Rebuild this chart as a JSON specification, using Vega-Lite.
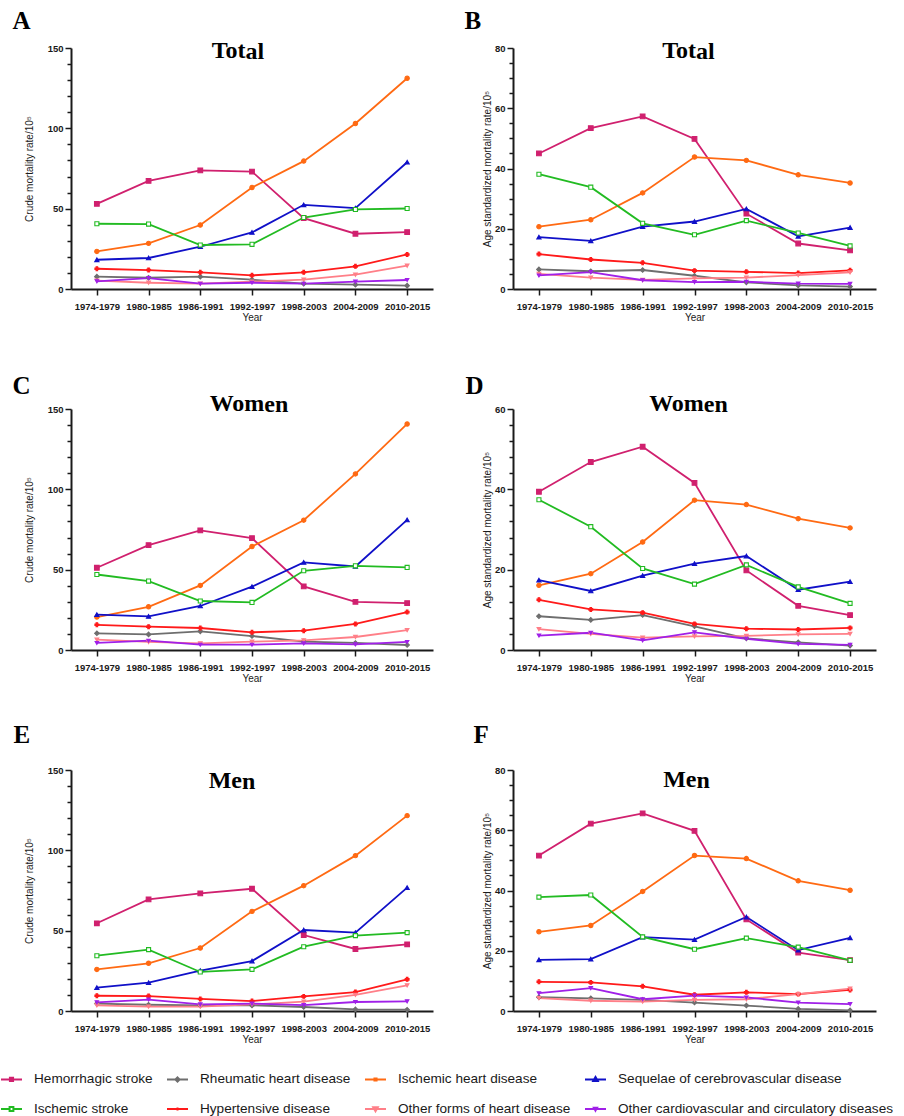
{
"$schema": "https://vega.github.io/schema/vega-lite/v6.json",
"background": "white",
"padding": {"left": 0, "top": 8, "right": 0, "bottom": 0},
"data": {"values": [
{"panel":"A","cause":"Hemorrhagic stroke","period":"1974-1979","rate":53.0},
{"panel":"A","cause":"Hemorrhagic stroke","period":"1980-1985","rate":67.3},
{"panel":"A","cause":"Hemorrhagic stroke","period":"1986-1991","rate":73.8},
{"panel":"A","cause":"Hemorrhagic stroke","period":"1992-1997","rate":73.1},
{"panel":"A","cause":"Hemorrhagic stroke","period":"1998-2003","rate":44.1},
{"panel":"A","cause":"Hemorrhagic stroke","period":"2004-2009","rate":34.4},
{"panel":"A","cause":"Hemorrhagic stroke","period":"2010-2015","rate":35.4},
{"panel":"A","cause":"Rheumatic heart disease","period":"1974-1979","rate":7.7},
{"panel":"A","cause":"Rheumatic heart disease","period":"1980-1985","rate":7.0},
{"panel":"A","cause":"Rheumatic heart disease","period":"1986-1991","rate":7.7},
{"panel":"A","cause":"Rheumatic heart disease","period":"1992-1997","rate":5.8},
{"panel":"A","cause":"Rheumatic heart disease","period":"1998-2003","rate":3.3},
{"panel":"A","cause":"Rheumatic heart disease","period":"2004-2009","rate":2.7},
{"panel":"A","cause":"Rheumatic heart disease","period":"2010-2015","rate":2.1},
{"panel":"A","cause":"Ischemic heart disease","period":"1974-1979","rate":23.4},
{"panel":"A","cause":"Ischemic heart disease","period":"1980-1985","rate":28.4},
{"panel":"A","cause":"Ischemic heart disease","period":"1986-1991","rate":39.8},
{"panel":"A","cause":"Ischemic heart disease","period":"1992-1997","rate":63.2},
{"panel":"A","cause":"Ischemic heart disease","period":"1998-2003","rate":79.6},
{"panel":"A","cause":"Ischemic heart disease","period":"2004-2009","rate":103.0},
{"panel":"A","cause":"Ischemic heart disease","period":"2010-2015","rate":131.2},
{"panel":"A","cause":"Sequelae of cerebrovascular disease","period":"1974-1979","rate":18.2},
{"panel":"A","cause":"Sequelae of cerebrovascular disease","period":"1980-1985","rate":19.3},
{"panel":"A","cause":"Sequelae of cerebrovascular disease","period":"1986-1991","rate":26.3},
{"panel":"A","cause":"Sequelae of cerebrovascular disease","period":"1992-1997","rate":35.2},
{"panel":"A","cause":"Sequelae of cerebrovascular disease","period":"1998-2003","rate":52.4},
{"panel":"A","cause":"Sequelae of cerebrovascular disease","period":"2004-2009","rate":50.3},
{"panel":"A","cause":"Sequelae of cerebrovascular disease","period":"2010-2015","rate":78.9},
{"panel":"A","cause":"Ischemic stroke","period":"1974-1979","rate":40.6},
{"panel":"A","cause":"Ischemic stroke","period":"1980-1985","rate":40.4},
{"panel":"A","cause":"Ischemic stroke","period":"1986-1991","rate":27.4},
{"panel":"A","cause":"Ischemic stroke","period":"1992-1997","rate":27.8},
{"panel":"A","cause":"Ischemic stroke","period":"1998-2003","rate":44.5},
{"panel":"A","cause":"Ischemic stroke","period":"2004-2009","rate":49.5},
{"panel":"A","cause":"Ischemic stroke","period":"2010-2015","rate":50.1},
{"panel":"A","cause":"Hypertensive disease","period":"1974-1979","rate":12.6},
{"panel":"A","cause":"Hypertensive disease","period":"1980-1985","rate":11.8},
{"panel":"A","cause":"Hypertensive disease","period":"1986-1991","rate":10.4},
{"panel":"A","cause":"Hypertensive disease","period":"1992-1997","rate":8.5},
{"panel":"A","cause":"Hypertensive disease","period":"1998-2003","rate":10.4},
{"panel":"A","cause":"Hypertensive disease","period":"2004-2009","rate":14.1},
{"panel":"A","cause":"Hypertensive disease","period":"2010-2015","rate":21.5},
{"panel":"A","cause":"Other forms of heart disease","period":"1974-1979","rate":5.2},
{"panel":"A","cause":"Other forms of heart disease","period":"1980-1985","rate":3.9},
{"panel":"A","cause":"Other forms of heart disease","period":"1986-1991","rate":3.3},
{"panel":"A","cause":"Other forms of heart disease","period":"1992-1997","rate":4.6},
{"panel":"A","cause":"Other forms of heart disease","period":"1998-2003","rate":5.8},
{"panel":"A","cause":"Other forms of heart disease","period":"2004-2009","rate":8.9},
{"panel":"A","cause":"Other forms of heart disease","period":"2010-2015","rate":14.5},
{"panel":"A","cause":"Other cardiovascular and circulatory diseases","period":"1974-1979","rate":4.8},
{"panel":"A","cause":"Other cardiovascular and circulatory diseases","period":"1980-1985","rate":6.8},
{"panel":"A","cause":"Other cardiovascular and circulatory diseases","period":"1986-1991","rate":3.3},
{"panel":"A","cause":"Other cardiovascular and circulatory diseases","period":"1992-1997","rate":3.9},
{"panel":"A","cause":"Other cardiovascular and circulatory diseases","period":"1998-2003","rate":3.3},
{"panel":"A","cause":"Other cardiovascular and circulatory diseases","period":"2004-2009","rate":4.6},
{"panel":"A","cause":"Other cardiovascular and circulatory diseases","period":"2010-2015","rate":5.6},
{"panel":"B","cause":"Hemorrhagic stroke","period":"1974-1979","rate":45.0},
{"panel":"B","cause":"Hemorrhagic stroke","period":"1980-1985","rate":53.4},
{"panel":"B","cause":"Hemorrhagic stroke","period":"1986-1991","rate":57.3},
{"panel":"B","cause":"Hemorrhagic stroke","period":"1992-1997","rate":49.8},
{"panel":"B","cause":"Hemorrhagic stroke","period":"1998-2003","rate":25.0},
{"panel":"B","cause":"Hemorrhagic stroke","period":"2004-2009","rate":15.1},
{"panel":"B","cause":"Hemorrhagic stroke","period":"2010-2015","rate":12.8},
{"panel":"B","cause":"Rheumatic heart disease","period":"1974-1979","rate":6.5},
{"panel":"B","cause":"Rheumatic heart disease","period":"1980-1985","rate":5.9},
{"panel":"B","cause":"Rheumatic heart disease","period":"1986-1991","rate":6.3},
{"panel":"B","cause":"Rheumatic heart disease","period":"1992-1997","rate":4.4},
{"panel":"B","cause":"Rheumatic heart disease","period":"1998-2003","rate":2.2},
{"panel":"B","cause":"Rheumatic heart disease","period":"2004-2009","rate":1.2},
{"panel":"B","cause":"Rheumatic heart disease","period":"2010-2015","rate":0.8},
{"panel":"B","cause":"Ischemic heart disease","period":"1974-1979","rate":20.7},
{"panel":"B","cause":"Ischemic heart disease","period":"1980-1985","rate":23.0},
{"panel":"B","cause":"Ischemic heart disease","period":"1986-1991","rate":31.9},
{"panel":"B","cause":"Ischemic heart disease","period":"1992-1997","rate":43.8},
{"panel":"B","cause":"Ischemic heart disease","period":"1998-2003","rate":42.7},
{"panel":"B","cause":"Ischemic heart disease","period":"2004-2009","rate":37.9},
{"panel":"B","cause":"Ischemic heart disease","period":"2010-2015","rate":35.2},
{"panel":"B","cause":"Sequelae of cerebrovascular disease","period":"1974-1979","rate":17.2},
{"panel":"B","cause":"Sequelae of cerebrovascular disease","period":"1980-1985","rate":16.0},
{"panel":"B","cause":"Sequelae of cerebrovascular disease","period":"1986-1991","rate":20.7},
{"panel":"B","cause":"Sequelae of cerebrovascular disease","period":"1992-1997","rate":22.4},
{"panel":"B","cause":"Sequelae of cerebrovascular disease","period":"1998-2003","rate":26.6},
{"panel":"B","cause":"Sequelae of cerebrovascular disease","period":"2004-2009","rate":17.5},
{"panel":"B","cause":"Sequelae of cerebrovascular disease","period":"2010-2015","rate":20.4},
{"panel":"B","cause":"Ischemic stroke","period":"1974-1979","rate":38.1},
{"panel":"B","cause":"Ischemic stroke","period":"1980-1985","rate":33.8},
{"panel":"B","cause":"Ischemic stroke","period":"1986-1991","rate":21.8},
{"panel":"B","cause":"Ischemic stroke","period":"1992-1997","rate":18.0},
{"panel":"B","cause":"Ischemic stroke","period":"1998-2003","rate":22.7},
{"panel":"B","cause":"Ischemic stroke","period":"2004-2009","rate":18.6},
{"panel":"B","cause":"Ischemic stroke","period":"2010-2015","rate":14.3},
{"panel":"B","cause":"Hypertensive disease","period":"1974-1979","rate":11.6},
{"panel":"B","cause":"Hypertensive disease","period":"1980-1985","rate":9.8},
{"panel":"B","cause":"Hypertensive disease","period":"1986-1991","rate":8.7},
{"panel":"B","cause":"Hypertensive disease","period":"1992-1997","rate":6.1},
{"panel":"B","cause":"Hypertensive disease","period":"1998-2003","rate":5.7},
{"panel":"B","cause":"Hypertensive disease","period":"2004-2009","rate":5.3},
{"panel":"B","cause":"Hypertensive disease","period":"2010-2015","rate":6.2},
{"panel":"B","cause":"Other forms of heart disease","period":"1974-1979","rate":5.0},
{"panel":"B","cause":"Other forms of heart disease","period":"1980-1985","rate":3.8},
{"panel":"B","cause":"Other forms of heart disease","period":"1986-1991","rate":3.0},
{"panel":"B","cause":"Other forms of heart disease","period":"1992-1997","rate":3.5},
{"panel":"B","cause":"Other forms of heart disease","period":"1998-2003","rate":3.8},
{"panel":"B","cause":"Other forms of heart disease","period":"2004-2009","rate":4.6},
{"panel":"B","cause":"Other forms of heart disease","period":"2010-2015","rate":5.5},
{"panel":"B","cause":"Other cardiovascular and circulatory diseases","period":"1974-1979","rate":4.5},
{"panel":"B","cause":"Other cardiovascular and circulatory diseases","period":"1980-1985","rate":5.6},
{"panel":"B","cause":"Other cardiovascular and circulatory diseases","period":"1986-1991","rate":2.9},
{"panel":"B","cause":"Other cardiovascular and circulatory diseases","period":"1992-1997","rate":2.3},
{"panel":"B","cause":"Other cardiovascular and circulatory diseases","period":"1998-2003","rate":2.4},
{"panel":"B","cause":"Other cardiovascular and circulatory diseases","period":"2004-2009","rate":1.8},
{"panel":"B","cause":"Other cardiovascular and circulatory diseases","period":"2010-2015","rate":1.7},
{"panel":"C","cause":"Hemorrhagic stroke","period":"1974-1979","rate":51.2},
{"panel":"C","cause":"Hemorrhagic stroke","period":"1980-1985","rate":65.3},
{"panel":"C","cause":"Hemorrhagic stroke","period":"1986-1991","rate":74.4},
{"panel":"C","cause":"Hemorrhagic stroke","period":"1992-1997","rate":69.6},
{"panel":"C","cause":"Hemorrhagic stroke","period":"1998-2003","rate":39.6},
{"panel":"C","cause":"Hemorrhagic stroke","period":"2004-2009","rate":30.0},
{"panel":"C","cause":"Hemorrhagic stroke","period":"2010-2015","rate":29.2},
{"panel":"C","cause":"Rheumatic heart disease","period":"1974-1979","rate":10.4},
{"panel":"C","cause":"Rheumatic heart disease","period":"1980-1985","rate":9.7},
{"panel":"C","cause":"Rheumatic heart disease","period":"1986-1991","rate":11.6},
{"panel":"C","cause":"Rheumatic heart disease","period":"1992-1997","rate":8.7},
{"panel":"C","cause":"Rheumatic heart disease","period":"1998-2003","rate":5.2},
{"panel":"C","cause":"Rheumatic heart disease","period":"2004-2009","rate":4.4},
{"panel":"C","cause":"Rheumatic heart disease","period":"2010-2015","rate":3.1},
{"panel":"C","cause":"Ischemic heart disease","period":"1974-1979","rate":20.5},
{"panel":"C","cause":"Ischemic heart disease","period":"1980-1985","rate":26.9},
{"panel":"C","cause":"Ischemic heart disease","period":"1986-1991","rate":40.2},
{"panel":"C","cause":"Ischemic heart disease","period":"1992-1997","rate":64.4},
{"panel":"C","cause":"Ischemic heart disease","period":"1998-2003","rate":80.8},
{"panel":"C","cause":"Ischemic heart disease","period":"2004-2009","rate":109.6},
{"panel":"C","cause":"Ischemic heart disease","period":"2010-2015","rate":140.7},
{"panel":"C","cause":"Sequelae of cerebrovascular disease","period":"1974-1979","rate":22.0},
{"panel":"C","cause":"Sequelae of cerebrovascular disease","period":"1980-1985","rate":20.9},
{"panel":"C","cause":"Sequelae of cerebrovascular disease","period":"1986-1991","rate":27.4},
{"panel":"C","cause":"Sequelae of cerebrovascular disease","period":"1992-1997","rate":39.4},
{"panel":"C","cause":"Sequelae of cerebrovascular disease","period":"1998-2003","rate":54.5},
{"panel":"C","cause":"Sequelae of cerebrovascular disease","period":"2004-2009","rate":52.0},
{"panel":"C","cause":"Sequelae of cerebrovascular disease","period":"2010-2015","rate":81.0},
{"panel":"C","cause":"Ischemic stroke","period":"1974-1979","rate":47.0},
{"panel":"C","cause":"Ischemic stroke","period":"1980-1985","rate":42.9},
{"panel":"C","cause":"Ischemic stroke","period":"1986-1991","rate":30.5},
{"panel":"C","cause":"Ischemic stroke","period":"1992-1997","rate":29.6},
{"panel":"C","cause":"Ischemic stroke","period":"1998-2003","rate":49.3},
{"panel":"C","cause":"Ischemic stroke","period":"2004-2009","rate":52.4},
{"panel":"C","cause":"Ischemic stroke","period":"2010-2015","rate":51.4},
{"panel":"C","cause":"Hypertensive disease","period":"1974-1979","rate":15.7},
{"panel":"C","cause":"Hypertensive disease","period":"1980-1985","rate":14.5},
{"panel":"C","cause":"Hypertensive disease","period":"1986-1991","rate":13.7},
{"panel":"C","cause":"Hypertensive disease","period":"1992-1997","rate":11.0},
{"panel":"C","cause":"Hypertensive disease","period":"1998-2003","rate":12.0},
{"panel":"C","cause":"Hypertensive disease","period":"2004-2009","rate":16.2},
{"panel":"C","cause":"Hypertensive disease","period":"2010-2015","rate":23.6},
{"panel":"C","cause":"Other forms of heart disease","period":"1974-1979","rate":6.4},
{"panel":"C","cause":"Other forms of heart disease","period":"1980-1985","rate":5.0},
{"panel":"C","cause":"Other forms of heart disease","period":"1986-1991","rate":4.1},
{"panel":"C","cause":"Other forms of heart disease","period":"1992-1997","rate":5.2},
{"panel":"C","cause":"Other forms of heart disease","period":"1998-2003","rate":6.0},
{"panel":"C","cause":"Other forms of heart disease","period":"2004-2009","rate":8.1},
{"panel":"C","cause":"Other forms of heart disease","period":"2010-2015","rate":12.4},
{"panel":"C","cause":"Other cardiovascular and circulatory diseases","period":"1974-1979","rate":4.4},
{"panel":"C","cause":"Other cardiovascular and circulatory diseases","period":"1980-1985","rate":5.8},
{"panel":"C","cause":"Other cardiovascular and circulatory diseases","period":"1986-1991","rate":3.3},
{"panel":"C","cause":"Other cardiovascular and circulatory diseases","period":"1992-1997","rate":3.3},
{"panel":"C","cause":"Other cardiovascular and circulatory diseases","period":"1998-2003","rate":4.1},
{"panel":"C","cause":"Other cardiovascular and circulatory diseases","period":"2004-2009","rate":3.5},
{"panel":"C","cause":"Other cardiovascular and circulatory diseases","period":"2010-2015","rate":5.0},
{"panel":"D","cause":"Hemorrhagic stroke","period":"1974-1979","rate":39.4},
{"panel":"D","cause":"Hemorrhagic stroke","period":"1980-1985","rate":46.8},
{"panel":"D","cause":"Hemorrhagic stroke","period":"1986-1991","rate":50.6},
{"panel":"D","cause":"Hemorrhagic stroke","period":"1992-1997","rate":41.6},
{"panel":"D","cause":"Hemorrhagic stroke","period":"1998-2003","rate":19.8},
{"panel":"D","cause":"Hemorrhagic stroke","period":"2004-2009","rate":11.0},
{"panel":"D","cause":"Hemorrhagic stroke","period":"2010-2015","rate":8.7},
{"panel":"D","cause":"Rheumatic heart disease","period":"1974-1979","rate":8.4},
{"panel":"D","cause":"Rheumatic heart disease","period":"1980-1985","rate":7.5},
{"panel":"D","cause":"Rheumatic heart disease","period":"1986-1991","rate":8.7},
{"panel":"D","cause":"Rheumatic heart disease","period":"1992-1997","rate":5.9},
{"panel":"D","cause":"Rheumatic heart disease","period":"1998-2003","rate":2.9},
{"panel":"D","cause":"Rheumatic heart disease","period":"2004-2009","rate":1.9},
{"panel":"D","cause":"Rheumatic heart disease","period":"2010-2015","rate":1.1},
{"panel":"D","cause":"Ischemic heart disease","period":"1974-1979","rate":16.1},
{"panel":"D","cause":"Ischemic heart disease","period":"1980-1985","rate":19.0},
{"panel":"D","cause":"Ischemic heart disease","period":"1986-1991","rate":26.9},
{"panel":"D","cause":"Ischemic heart disease","period":"1992-1997","rate":37.3},
{"panel":"D","cause":"Ischemic heart disease","period":"1998-2003","rate":36.2},
{"panel":"D","cause":"Ischemic heart disease","period":"2004-2009","rate":32.7},
{"panel":"D","cause":"Ischemic heart disease","period":"2010-2015","rate":30.4},
{"panel":"D","cause":"Sequelae of cerebrovascular disease","period":"1974-1979","rate":17.4},
{"panel":"D","cause":"Sequelae of cerebrovascular disease","period":"1980-1985","rate":14.7},
{"panel":"D","cause":"Sequelae of cerebrovascular disease","period":"1986-1991","rate":18.5},
{"panel":"D","cause":"Sequelae of cerebrovascular disease","period":"1992-1997","rate":21.5},
{"panel":"D","cause":"Sequelae of cerebrovascular disease","period":"1998-2003","rate":23.4},
{"panel":"D","cause":"Sequelae of cerebrovascular disease","period":"2004-2009","rate":15.0},
{"panel":"D","cause":"Sequelae of cerebrovascular disease","period":"2010-2015","rate":17.0},
{"panel":"D","cause":"Ischemic stroke","period":"1974-1979","rate":37.4},
{"panel":"D","cause":"Ischemic stroke","period":"1980-1985","rate":30.7},
{"panel":"D","cause":"Ischemic stroke","period":"1986-1991","rate":20.3},
{"panel":"D","cause":"Ischemic stroke","period":"1992-1997","rate":16.4},
{"panel":"D","cause":"Ischemic stroke","period":"1998-2003","rate":21.2},
{"panel":"D","cause":"Ischemic stroke","period":"2004-2009","rate":15.7},
{"panel":"D","cause":"Ischemic stroke","period":"2010-2015","rate":11.6},
{"panel":"D","cause":"Hypertensive disease","period":"1974-1979","rate":12.5},
{"panel":"D","cause":"Hypertensive disease","period":"1980-1985","rate":10.1},
{"panel":"D","cause":"Hypertensive disease","period":"1986-1991","rate":9.3},
{"panel":"D","cause":"Hypertensive disease","period":"1992-1997","rate":6.5},
{"panel":"D","cause":"Hypertensive disease","period":"1998-2003","rate":5.3},
{"panel":"D","cause":"Hypertensive disease","period":"2004-2009","rate":5.1},
{"panel":"D","cause":"Hypertensive disease","period":"2010-2015","rate":5.5},
{"panel":"D","cause":"Other forms of heart disease","period":"1974-1979","rate":5.2},
{"panel":"D","cause":"Other forms of heart disease","period":"1980-1985","rate":4.0},
{"panel":"D","cause":"Other forms of heart disease","period":"1986-1991","rate":3.1},
{"panel":"D","cause":"Other forms of heart disease","period":"1992-1997","rate":3.4},
{"panel":"D","cause":"Other forms of heart disease","period":"1998-2003","rate":3.5},
{"panel":"D","cause":"Other forms of heart disease","period":"2004-2009","rate":3.9},
{"panel":"D","cause":"Other forms of heart disease","period":"2010-2015","rate":4.0},
{"panel":"D","cause":"Other cardiovascular and circulatory diseases","period":"1974-1979","rate":3.6},
{"panel":"D","cause":"Other cardiovascular and circulatory diseases","period":"1980-1985","rate":4.3},
{"panel":"D","cause":"Other cardiovascular and circulatory diseases","period":"1986-1991","rate":2.4},
{"panel":"D","cause":"Other cardiovascular and circulatory diseases","period":"1992-1997","rate":4.4},
{"panel":"D","cause":"Other cardiovascular and circulatory diseases","period":"1998-2003","rate":2.8},
{"panel":"D","cause":"Other cardiovascular and circulatory diseases","period":"2004-2009","rate":1.5},
{"panel":"D","cause":"Other cardiovascular and circulatory diseases","period":"2010-2015","rate":1.3},
{"panel":"E","cause":"Hemorrhagic stroke","period":"1974-1979","rate":54.6},
{"panel":"E","cause":"Hemorrhagic stroke","period":"1980-1985","rate":69.5},
{"panel":"E","cause":"Hemorrhagic stroke","period":"1986-1991","rate":73.2},
{"panel":"E","cause":"Hemorrhagic stroke","period":"1992-1997","rate":76.1},
{"panel":"E","cause":"Hemorrhagic stroke","period":"1998-2003","rate":47.3},
{"panel":"E","cause":"Hemorrhagic stroke","period":"2004-2009","rate":38.6},
{"panel":"E","cause":"Hemorrhagic stroke","period":"2010-2015","rate":41.5},
{"panel":"E","cause":"Rheumatic heart disease","period":"1974-1979","rate":4.6},
{"panel":"E","cause":"Rheumatic heart disease","period":"1980-1985","rate":3.9},
{"panel":"E","cause":"Rheumatic heart disease","period":"1986-1991","rate":3.5},
{"panel":"E","cause":"Rheumatic heart disease","period":"1992-1997","rate":3.5},
{"panel":"E","cause":"Rheumatic heart disease","period":"1998-2003","rate":2.5},
{"panel":"E","cause":"Rheumatic heart disease","period":"2004-2009","rate":1.0},
{"panel":"E","cause":"Rheumatic heart disease","period":"2010-2015","rate":0.8},
{"panel":"E","cause":"Ischemic heart disease","period":"1974-1979","rate":25.9},
{"panel":"E","cause":"Ischemic heart disease","period":"1980-1985","rate":29.7},
{"panel":"E","cause":"Ischemic heart disease","period":"1986-1991","rate":39.2},
{"panel":"E","cause":"Ischemic heart disease","period":"1992-1997","rate":62.0},
{"panel":"E","cause":"Ischemic heart disease","period":"1998-2003","rate":78.0},
{"panel":"E","cause":"Ischemic heart disease","period":"2004-2009","rate":96.7},
{"panel":"E","cause":"Ischemic heart disease","period":"2010-2015","rate":121.6},
{"panel":"E","cause":"Sequelae of cerebrovascular disease","period":"1974-1979","rate":14.5},
{"panel":"E","cause":"Sequelae of cerebrovascular disease","period":"1980-1985","rate":17.6},
{"panel":"E","cause":"Sequelae of cerebrovascular disease","period":"1986-1991","rate":25.1},
{"panel":"E","cause":"Sequelae of cerebrovascular disease","period":"1992-1997","rate":31.1},
{"panel":"E","cause":"Sequelae of cerebrovascular disease","period":"1998-2003","rate":50.4},
{"panel":"E","cause":"Sequelae of cerebrovascular disease","period":"2004-2009","rate":48.8},
{"panel":"E","cause":"Sequelae of cerebrovascular disease","period":"2010-2015","rate":76.8},
{"panel":"E","cause":"Ischemic stroke","period":"1974-1979","rate":34.4},
{"panel":"E","cause":"Ischemic stroke","period":"1980-1985","rate":38.2},
{"panel":"E","cause":"Ischemic stroke","period":"1986-1991","rate":24.3},
{"panel":"E","cause":"Ischemic stroke","period":"1992-1997","rate":25.9},
{"panel":"E","cause":"Ischemic stroke","period":"1998-2003","rate":40.0},
{"panel":"E","cause":"Ischemic stroke","period":"2004-2009","rate":46.9},
{"panel":"E","cause":"Ischemic stroke","period":"2010-2015","rate":48.8},
{"panel":"E","cause":"Hypertensive disease","period":"1974-1979","rate":9.5},
{"panel":"E","cause":"Hypertensive disease","period":"1980-1985","rate":9.3},
{"panel":"E","cause":"Hypertensive disease","period":"1986-1991","rate":7.5},
{"panel":"E","cause":"Hypertensive disease","period":"1992-1997","rate":6.2},
{"panel":"E","cause":"Hypertensive disease","period":"1998-2003","rate":9.1},
{"panel":"E","cause":"Hypertensive disease","period":"2004-2009","rate":11.8},
{"panel":"E","cause":"Hypertensive disease","period":"2010-2015","rate":19.7},
{"panel":"E","cause":"Other forms of heart disease","period":"1974-1979","rate":3.5},
{"panel":"E","cause":"Other forms of heart disease","period":"1980-1985","rate":2.7},
{"panel":"E","cause":"Other forms of heart disease","period":"1986-1991","rate":2.7},
{"panel":"E","cause":"Other forms of heart disease","period":"1992-1997","rate":4.1},
{"panel":"E","cause":"Other forms of heart disease","period":"1998-2003","rate":5.8},
{"panel":"E","cause":"Other forms of heart disease","period":"2004-2009","rate":10.0},
{"panel":"E","cause":"Other forms of heart disease","period":"2010-2015","rate":16.0},
{"panel":"E","cause":"Other cardiovascular and circulatory diseases","period":"1974-1979","rate":5.4},
{"panel":"E","cause":"Other cardiovascular and circulatory diseases","period":"1980-1985","rate":7.1},
{"panel":"E","cause":"Other cardiovascular and circulatory diseases","period":"1986-1991","rate":4.1},
{"panel":"E","cause":"Other cardiovascular and circulatory diseases","period":"1992-1997","rate":4.6},
{"panel":"E","cause":"Other cardiovascular and circulatory diseases","period":"1998-2003","rate":3.7},
{"panel":"E","cause":"Other cardiovascular and circulatory diseases","period":"2004-2009","rate":5.6},
{"panel":"E","cause":"Other cardiovascular and circulatory diseases","period":"2010-2015","rate":6.0},
{"panel":"F","cause":"Hemorrhagic stroke","period":"1974-1979","rate":51.6},
{"panel":"F","cause":"Hemorrhagic stroke","period":"1980-1985","rate":62.2},
{"panel":"F","cause":"Hemorrhagic stroke","period":"1986-1991","rate":65.6},
{"panel":"F","cause":"Hemorrhagic stroke","period":"1992-1997","rate":59.8},
{"panel":"F","cause":"Hemorrhagic stroke","period":"1998-2003","rate":30.4},
{"panel":"F","cause":"Hemorrhagic stroke","period":"2004-2009","rate":19.4},
{"panel":"F","cause":"Hemorrhagic stroke","period":"2010-2015","rate":16.9},
{"panel":"F","cause":"Rheumatic heart disease","period":"1974-1979","rate":4.6},
{"panel":"F","cause":"Rheumatic heart disease","period":"1980-1985","rate":4.2},
{"panel":"F","cause":"Rheumatic heart disease","period":"1986-1991","rate":3.7},
{"panel":"F","cause":"Rheumatic heart disease","period":"1992-1997","rate":2.8},
{"panel":"F","cause":"Rheumatic heart disease","period":"1998-2003","rate":1.8},
{"panel":"F","cause":"Rheumatic heart disease","period":"2004-2009","rate":0.7},
{"panel":"F","cause":"Rheumatic heart disease","period":"2010-2015","rate":0.2},
{"panel":"F","cause":"Ischemic heart disease","period":"1974-1979","rate":26.3},
{"panel":"F","cause":"Ischemic heart disease","period":"1980-1985","rate":28.4},
{"panel":"F","cause":"Ischemic heart disease","period":"1986-1991","rate":39.7},
{"panel":"F","cause":"Ischemic heart disease","period":"1992-1997","rate":51.6},
{"panel":"F","cause":"Ischemic heart disease","period":"1998-2003","rate":50.6},
{"panel":"F","cause":"Ischemic heart disease","period":"2004-2009","rate":43.2},
{"panel":"F","cause":"Ischemic heart disease","period":"2010-2015","rate":40.1},
{"panel":"F","cause":"Sequelae of cerebrovascular disease","period":"1974-1979","rate":17.0},
{"panel":"F","cause":"Sequelae of cerebrovascular disease","period":"1980-1985","rate":17.2},
{"panel":"F","cause":"Sequelae of cerebrovascular disease","period":"1986-1991","rate":24.5},
{"panel":"F","cause":"Sequelae of cerebrovascular disease","period":"1992-1997","rate":23.7},
{"panel":"F","cause":"Sequelae of cerebrovascular disease","period":"1998-2003","rate":31.2},
{"panel":"F","cause":"Sequelae of cerebrovascular disease","period":"2004-2009","rate":20.2},
{"panel":"F","cause":"Sequelae of cerebrovascular disease","period":"2010-2015","rate":24.3},
{"panel":"F","cause":"Ischemic stroke","period":"1974-1979","rate":37.8},
{"panel":"F","cause":"Ischemic stroke","period":"1980-1985","rate":38.5},
{"panel":"F","cause":"Ischemic stroke","period":"1986-1991","rate":24.6},
{"panel":"F","cause":"Ischemic stroke","period":"1992-1997","rate":20.5},
{"panel":"F","cause":"Ischemic stroke","period":"1998-2003","rate":24.2},
{"panel":"F","cause":"Ischemic stroke","period":"2004-2009","rate":21.2},
{"panel":"F","cause":"Ischemic stroke","period":"2010-2015","rate":16.8},
{"panel":"F","cause":"Hypertensive disease","period":"1974-1979","rate":9.7},
{"panel":"F","cause":"Hypertensive disease","period":"1980-1985","rate":9.5},
{"panel":"F","cause":"Hypertensive disease","period":"1986-1991","rate":8.2},
{"panel":"F","cause":"Hypertensive disease","period":"1992-1997","rate":5.4},
{"panel":"F","cause":"Hypertensive disease","period":"1998-2003","rate":6.2},
{"panel":"F","cause":"Hypertensive disease","period":"2004-2009","rate":5.6},
{"panel":"F","cause":"Hypertensive disease","period":"2010-2015","rate":7.0},
{"panel":"F","cause":"Other forms of heart disease","period":"1974-1979","rate":4.3},
{"panel":"F","cause":"Other forms of heart disease","period":"1980-1985","rate":3.4},
{"panel":"F","cause":"Other forms of heart disease","period":"1986-1991","rate":3.1},
{"panel":"F","cause":"Other forms of heart disease","period":"1992-1997","rate":3.7},
{"panel":"F","cause":"Other forms of heart disease","period":"1998-2003","rate":3.9},
{"panel":"F","cause":"Other forms of heart disease","period":"2004-2009","rate":5.6},
{"panel":"F","cause":"Other forms of heart disease","period":"2010-2015","rate":7.4},
{"panel":"F","cause":"Other cardiovascular and circulatory diseases","period":"1974-1979","rate":5.9},
{"panel":"F","cause":"Other cardiovascular and circulatory diseases","period":"1980-1985","rate":7.6},
{"panel":"F","cause":"Other cardiovascular and circulatory diseases","period":"1986-1991","rate":3.9},
{"panel":"F","cause":"Other cardiovascular and circulatory diseases","period":"1992-1997","rate":5.1},
{"panel":"F","cause":"Other cardiovascular and circulatory diseases","period":"1998-2003","rate":4.5},
{"panel":"F","cause":"Other cardiovascular and circulatory diseases","period":"2004-2009","rate":2.8},
{"panel":"F","cause":"Other cardiovascular and circulatory diseases","period":"2010-2015","rate":2.3}
]},
"columns": 2,
"spacing": {"row": 120, "column": 80},
"bounds": "flush",
"concat": [
{
 "width": 362, "height": 241,
 "transform": [{"filter": "datum.panel === 'A'"}],
 "layer": [
  {"mark": {"type": "line", "strokeWidth": 1.8},
   "encoding": {
    "x": {"field": "period", "type": "ordinal", "scale": {"type": "point", "padding": 0.5, "domain": ["1974-1979","1980-1985","1986-1991","1992-1997","1998-2003","2004-2009","2010-2015"]}, "axis": {"title": "Year"}},
    "y": {"field": "rate", "type": "quantitative", "scale": {"domain": [0, 150], "nice": false}, "axis": {"orient": "left", "title": "Crude mortality rate/10⁵", "titleX": -42, "titleAngle": -90, "format": "d", "tickCount": 100, "values": [0,10,20,30,40,50,60,70,80,90,100,110,120,130,140,150], "labelExpr": "datum.value % 50 === 0 ? datum.label : ''", "tickSize": {"condition": {"test": "datum.value % 50 !== 0", "value": 4}, "value": 6}}},
    "color": {"field": "cause", "type": "nominal", "scale": {"domain": ["Hemorrhagic stroke","Rheumatic heart disease","Ischemic heart disease","Sequelae of cerebrovascular disease","Ischemic stroke","Hypertensive disease","Other forms of heart disease","Other cardiovascular and circulatory diseases"], "range": ["#D0206E","#6E6E6E","#FF6A13","#1010C8","#22BB22","#FF1A1A","#FF7F88","#A020E8"]},
     "legend": {"orient": "none", "legendX": -71, "legendY": 1019.5, "title": null, "columns": 4, "direction": "horizontal", "labelFont": "Liberation Sans", "labelFontSize": 13.6, "labelColor": "#1a1a1a", "labelOffset": 11, "labelLimit": 500, "symbolSize": 441, "symbolStrokeWidth": 2, "columnPadding": 10, "rowPadding": 11, "padding": 0, "gridAlign": "each",
      "encode": {"symbols": {"update": {
        "shape": {"signal": "datum.value === 'Hemorrhagic stroke' ? 'M-1,0H1M-0.15,-0.15H0.15V0.15H-0.15Z' : datum.value === 'Rheumatic heart disease' ? 'M-1,0H1M0,-0.2L0.2,0L0,0.2L-0.2,0Z' : datum.value === 'Ischemic heart disease' ? 'M-1,0H1M-0.1,-0.1H0.1V0.1H-0.1Z' : datum.value === 'Sequelae of cerebrovascular disease' ? 'M-1,0H1M0,-0.24L0.22,0.15L-0.22,0.15Z' : datum.value === 'Ischemic stroke' ? 'M-1,0H-0.18M0.18,0H1M-0.18,-0.18H0.18V0.18H-0.18Z' : datum.value === 'Hypertensive disease' ? 'M-1,0H1M0,-0.15V0.15' : datum.value === 'Other forms of heart disease' ? 'M-1,0H1M0,0.22L0.22,-0.16L-0.22,-0.16Z' : 'M-1,0H1M0,0.15L0.15,-0.12L-0.15,-0.12Z'"},
        "fill": {"signal": "datum.value === 'Ischemic stroke' ? '#ffffff' : scale('color', datum.value)"},
        "stroke": {"signal": "scale('color', datum.value)"},
        "opacity": {"value": 1},
        "strokeWidth": {"value": 2}
      }}}}}
   }},
  {"mark": {"type": "point", "filled": false, "opacity": 1, "strokeWidth": 1.1},
   "encoding": {
    "x": {"field": "period", "type": "ordinal", "scale": {"type": "point", "padding": 0.5, "domain": ["1974-1979","1980-1985","1986-1991","1992-1997","1998-2003","2004-2009","2010-2015"]}, "axis": {"orient": "top", "title": "A", "domain": false, "ticks": false, "labels": false, "titleX": -59, "titleY": -20, "titleAlign": "left", "titleAngle": 0, "titleBaseline": "alphabetic", "titleFont": "Liberation Serif", "titleFontSize": 25, "titleFontWeight": "bold", "titleColor": "#000000"}},
    "y": {"field": "rate", "type": "quantitative", "scale": {"domain": [0, 150], "nice": false}, "axis": {"orient": "right", "title": "Total", "domain": false, "ticks": false, "labels": false, "titleX": -195.5, "titleY": 10, "titleAlign": "center", "titleAngle": 0.001, "titleBaseline": "alphabetic", "titleFont": "Liberation Serif", "titleFontSize": 24, "titleFontWeight": "bold", "titleColor": "#000000"}},
    "color": {"field": "cause", "type": "nominal", "scale": {"domain": ["Hemorrhagic stroke","Rheumatic heart disease","Ischemic heart disease","Sequelae of cerebrovascular disease","Ischemic stroke","Hypertensive disease","Other forms of heart disease","Other cardiovascular and circulatory diseases"], "range": ["#D0206E","#6E6E6E","#FF6A13","#1010C8","#22BB22","#FF1A1A","#FF7F88","#A020E8"]}},
    "fill": {"condition": {"test": "datum.cause === 'Ischemic stroke'", "value": "#ffffff"}, "field": "cause", "type": "nominal", "scale": {"domain": ["Other cardiovascular and circulatory diseases","Other forms of heart disease","Hypertensive disease","Ischemic stroke","Sequelae of cerebrovascular disease","Ischemic heart disease","Rheumatic heart disease","Hemorrhagic stroke"], "range": ["#A020E8","#FF7F88","#FF1A1A","#22BB22","#1010C8","#FF6A13","#6E6E6E","#D0206E"]}, "legend": null},
    "shape": {"field": "cause", "type": "nominal", "scale": {"domain": ["Other cardiovascular and circulatory diseases","Other forms of heart disease","Hypertensive disease","Ischemic stroke","Sequelae of cerebrovascular disease","Ischemic heart disease","Rheumatic heart disease","Hemorrhagic stroke"], "range": ["triangle-down","triangle-down","cross","square","triangle-up","circle","diamond","square"]}, "legend": null},
    "size": {"field": "cause", "type": "ordinal", "scale": {"domain": ["Other cardiovascular and circulatory diseases","Other forms of heart disease","Hypertensive disease","Ischemic stroke","Sequelae of cerebrovascular disease","Ischemic heart disease","Rheumatic heart disease","Hemorrhagic stroke"], "range": [12,22,10,24,28,8,14,10]}, "legend": null}
   }}
 ],
 "resolve": {"axis": {"x": "independent", "y": "independent"}}
},
{
 "width": 363, "height": 241,
 "transform": [{"filter": "datum.panel === 'B'"}],
 "layer": [
  {"mark": {"type": "line", "strokeWidth": 1.8},
   "encoding": {
    "x": {"field": "period", "type": "ordinal", "scale": {"type": "point", "padding": 0.5, "domain": ["1974-1979","1980-1985","1986-1991","1992-1997","1998-2003","2004-2009","2010-2015"]}, "axis": {"title": "Year"}},
    "y": {"field": "rate", "type": "quantitative", "scale": {"domain": [0, 80], "nice": false}, "axis": {"orient": "left", "title": "Age standardized mortality rate/10⁵", "titleX": -26, "titleAngle": -90, "format": "d", "tickCount": 100, "values": [0,5,10,15,20,25,30,35,40,45,50,55,60,65,70,75,80], "labelExpr": "datum.value % 20 === 0 ? datum.label : ''", "tickSize": {"condition": {"test": "datum.value % 20 !== 0", "value": 4}, "value": 6}}},
    "color": {"field": "cause", "type": "nominal", "scale": {"domain": ["Hemorrhagic stroke","Rheumatic heart disease","Ischemic heart disease","Sequelae of cerebrovascular disease","Ischemic stroke","Hypertensive disease","Other forms of heart disease","Other cardiovascular and circulatory diseases"], "range": ["#D0206E","#6E6E6E","#FF6A13","#1010C8","#22BB22","#FF1A1A","#FF7F88","#A020E8"]}}
   }},
  {"mark": {"type": "point", "filled": false, "opacity": 1, "strokeWidth": 1.1},
   "encoding": {
    "x": {"field": "period", "type": "ordinal", "scale": {"type": "point", "padding": 0.5, "domain": ["1974-1979","1980-1985","1986-1991","1992-1997","1998-2003","2004-2009","2010-2015"]}, "axis": {"orient": "top", "title": "B", "domain": false, "ticks": false, "labels": false, "titleX": -49, "titleY": -20, "titleAlign": "left", "titleAngle": 0, "titleBaseline": "alphabetic", "titleFont": "Liberation Serif", "titleFontSize": 25, "titleFontWeight": "bold", "titleColor": "#000000"}},
    "y": {"field": "rate", "type": "quantitative", "scale": {"domain": [0, 80], "nice": false}, "axis": {"orient": "right", "title": "Total", "domain": false, "ticks": false, "labels": false, "titleX": -188, "titleY": 10, "titleAlign": "center", "titleAngle": 0.001, "titleBaseline": "alphabetic", "titleFont": "Liberation Serif", "titleFontSize": 24, "titleFontWeight": "bold", "titleColor": "#000000"}},
    "color": {"field": "cause", "type": "nominal", "scale": {"domain": ["Hemorrhagic stroke","Rheumatic heart disease","Ischemic heart disease","Sequelae of cerebrovascular disease","Ischemic stroke","Hypertensive disease","Other forms of heart disease","Other cardiovascular and circulatory diseases"], "range": ["#D0206E","#6E6E6E","#FF6A13","#1010C8","#22BB22","#FF1A1A","#FF7F88","#A020E8"]}},
    "fill": {"condition": {"test": "datum.cause === 'Ischemic stroke'", "value": "#ffffff"}, "field": "cause", "type": "nominal", "scale": {"domain": ["Other cardiovascular and circulatory diseases","Other forms of heart disease","Hypertensive disease","Ischemic stroke","Sequelae of cerebrovascular disease","Ischemic heart disease","Rheumatic heart disease","Hemorrhagic stroke"], "range": ["#A020E8","#FF7F88","#FF1A1A","#22BB22","#1010C8","#FF6A13","#6E6E6E","#D0206E"]}, "legend": null},
    "shape": {"field": "cause", "type": "nominal", "scale": {"domain": ["Other cardiovascular and circulatory diseases","Other forms of heart disease","Hypertensive disease","Ischemic stroke","Sequelae of cerebrovascular disease","Ischemic heart disease","Rheumatic heart disease","Hemorrhagic stroke"], "range": ["triangle-down","triangle-down","cross","square","triangle-up","circle","diamond","square"]}, "legend": null},
    "size": {"field": "cause", "type": "ordinal", "scale": {"domain": ["Other cardiovascular and circulatory diseases","Other forms of heart disease","Hypertensive disease","Ischemic stroke","Sequelae of cerebrovascular disease","Ischemic heart disease","Rheumatic heart disease","Hemorrhagic stroke"], "range": [12,22,10,24,28,8,14,10]}, "legend": null}
   }}
 ],
 "resolve": {"axis": {"x": "independent", "y": "independent"}}
},
{
 "width": 362, "height": 241,
 "transform": [{"filter": "datum.panel === 'C'"}],
 "layer": [
  {"mark": {"type": "line", "strokeWidth": 1.8},
   "encoding": {
    "x": {"field": "period", "type": "ordinal", "scale": {"type": "point", "padding": 0.5, "domain": ["1974-1979","1980-1985","1986-1991","1992-1997","1998-2003","2004-2009","2010-2015"]}, "axis": {"title": "Year"}},
    "y": {"field": "rate", "type": "quantitative", "scale": {"domain": [0, 150], "nice": false}, "axis": {"orient": "left", "title": "Crude mortality rate/10⁵", "titleX": -42, "titleAngle": -90, "format": "d", "tickCount": 100, "values": [0,10,20,30,40,50,60,70,80,90,100,110,120,130,140,150], "labelExpr": "datum.value % 50 === 0 ? datum.label : ''", "tickSize": {"condition": {"test": "datum.value % 50 !== 0", "value": 4}, "value": 6}}},
    "color": {"field": "cause", "type": "nominal", "scale": {"domain": ["Hemorrhagic stroke","Rheumatic heart disease","Ischemic heart disease","Sequelae of cerebrovascular disease","Ischemic stroke","Hypertensive disease","Other forms of heart disease","Other cardiovascular and circulatory diseases"], "range": ["#D0206E","#6E6E6E","#FF6A13","#1010C8","#22BB22","#FF1A1A","#FF7F88","#A020E8"]}}
   }},
  {"mark": {"type": "point", "filled": false, "opacity": 1, "strokeWidth": 1.1},
   "encoding": {
    "x": {"field": "period", "type": "ordinal", "scale": {"type": "point", "padding": 0.5, "domain": ["1974-1979","1980-1985","1986-1991","1992-1997","1998-2003","2004-2009","2010-2015"]}, "axis": {"orient": "top", "title": "C", "domain": false, "ticks": false, "labels": false, "titleX": -59, "titleY": -16, "titleAlign": "left", "titleAngle": 0, "titleBaseline": "alphabetic", "titleFont": "Liberation Serif", "titleFontSize": 25, "titleFontWeight": "bold", "titleColor": "#000000"}},
    "y": {"field": "rate", "type": "quantitative", "scale": {"domain": [0, 150], "nice": false}, "axis": {"orient": "right", "title": "Women", "domain": false, "ticks": false, "labels": false, "titleX": -184.5, "titleY": 2, "titleAlign": "center", "titleAngle": 0.001, "titleBaseline": "alphabetic", "titleFont": "Liberation Serif", "titleFontSize": 24, "titleFontWeight": "bold", "titleColor": "#000000"}},
    "color": {"field": "cause", "type": "nominal", "scale": {"domain": ["Hemorrhagic stroke","Rheumatic heart disease","Ischemic heart disease","Sequelae of cerebrovascular disease","Ischemic stroke","Hypertensive disease","Other forms of heart disease","Other cardiovascular and circulatory diseases"], "range": ["#D0206E","#6E6E6E","#FF6A13","#1010C8","#22BB22","#FF1A1A","#FF7F88","#A020E8"]}},
    "fill": {"condition": {"test": "datum.cause === 'Ischemic stroke'", "value": "#ffffff"}, "field": "cause", "type": "nominal", "scale": {"domain": ["Other cardiovascular and circulatory diseases","Other forms of heart disease","Hypertensive disease","Ischemic stroke","Sequelae of cerebrovascular disease","Ischemic heart disease","Rheumatic heart disease","Hemorrhagic stroke"], "range": ["#A020E8","#FF7F88","#FF1A1A","#22BB22","#1010C8","#FF6A13","#6E6E6E","#D0206E"]}, "legend": null},
    "shape": {"field": "cause", "type": "nominal", "scale": {"domain": ["Other cardiovascular and circulatory diseases","Other forms of heart disease","Hypertensive disease","Ischemic stroke","Sequelae of cerebrovascular disease","Ischemic heart disease","Rheumatic heart disease","Hemorrhagic stroke"], "range": ["triangle-down","triangle-down","cross","square","triangle-up","circle","diamond","square"]}, "legend": null},
    "size": {"field": "cause", "type": "ordinal", "scale": {"domain": ["Other cardiovascular and circulatory diseases","Other forms of heart disease","Hypertensive disease","Ischemic stroke","Sequelae of cerebrovascular disease","Ischemic heart disease","Rheumatic heart disease","Hemorrhagic stroke"], "range": [12,22,10,24,28,8,14,10]}, "legend": null}
   }}
 ],
 "resolve": {"axis": {"x": "independent", "y": "independent"}}
},
{
 "width": 363, "height": 241,
 "transform": [{"filter": "datum.panel === 'D'"}],
 "layer": [
  {"mark": {"type": "line", "strokeWidth": 1.8},
   "encoding": {
    "x": {"field": "period", "type": "ordinal", "scale": {"type": "point", "padding": 0.5, "domain": ["1974-1979","1980-1985","1986-1991","1992-1997","1998-2003","2004-2009","2010-2015"]}, "axis": {"title": "Year"}},
    "y": {"field": "rate", "type": "quantitative", "scale": {"domain": [0, 60], "nice": false}, "axis": {"orient": "left", "title": "Age standardized mortality rate/10⁵", "titleX": -26, "titleAngle": -90, "format": "d", "tickCount": 100, "values": [0,4,8,12,16,20,24,28,32,36,40,44,48,52,56,60], "labelExpr": "datum.value % 20 === 0 ? datum.label : ''", "tickSize": {"condition": {"test": "datum.value % 20 !== 0", "value": 4}, "value": 6}}},
    "color": {"field": "cause", "type": "nominal", "scale": {"domain": ["Hemorrhagic stroke","Rheumatic heart disease","Ischemic heart disease","Sequelae of cerebrovascular disease","Ischemic stroke","Hypertensive disease","Other forms of heart disease","Other cardiovascular and circulatory diseases"], "range": ["#D0206E","#6E6E6E","#FF6A13","#1010C8","#22BB22","#FF1A1A","#FF7F88","#A020E8"]}}
   }},
  {"mark": {"type": "point", "filled": false, "opacity": 1, "strokeWidth": 1.1},
   "encoding": {
    "x": {"field": "period", "type": "ordinal", "scale": {"type": "point", "padding": 0.5, "domain": ["1974-1979","1980-1985","1986-1991","1992-1997","1998-2003","2004-2009","2010-2015"]}, "axis": {"orient": "top", "title": "D", "domain": false, "ticks": false, "labels": false, "titleX": -48, "titleY": -16, "titleAlign": "left", "titleAngle": 0, "titleBaseline": "alphabetic", "titleFont": "Liberation Serif", "titleFontSize": 25, "titleFontWeight": "bold", "titleColor": "#000000"}},
    "y": {"field": "rate", "type": "quantitative", "scale": {"domain": [0, 60], "nice": false}, "axis": {"orient": "right", "title": "Women", "domain": false, "ticks": false, "labels": false, "titleX": -188, "titleY": 2, "titleAlign": "center", "titleAngle": 0.001, "titleBaseline": "alphabetic", "titleFont": "Liberation Serif", "titleFontSize": 24, "titleFontWeight": "bold", "titleColor": "#000000"}},
    "color": {"field": "cause", "type": "nominal", "scale": {"domain": ["Hemorrhagic stroke","Rheumatic heart disease","Ischemic heart disease","Sequelae of cerebrovascular disease","Ischemic stroke","Hypertensive disease","Other forms of heart disease","Other cardiovascular and circulatory diseases"], "range": ["#D0206E","#6E6E6E","#FF6A13","#1010C8","#22BB22","#FF1A1A","#FF7F88","#A020E8"]}},
    "fill": {"condition": {"test": "datum.cause === 'Ischemic stroke'", "value": "#ffffff"}, "field": "cause", "type": "nominal", "scale": {"domain": ["Other cardiovascular and circulatory diseases","Other forms of heart disease","Hypertensive disease","Ischemic stroke","Sequelae of cerebrovascular disease","Ischemic heart disease","Rheumatic heart disease","Hemorrhagic stroke"], "range": ["#A020E8","#FF7F88","#FF1A1A","#22BB22","#1010C8","#FF6A13","#6E6E6E","#D0206E"]}, "legend": null},
    "shape": {"field": "cause", "type": "nominal", "scale": {"domain": ["Other cardiovascular and circulatory diseases","Other forms of heart disease","Hypertensive disease","Ischemic stroke","Sequelae of cerebrovascular disease","Ischemic heart disease","Rheumatic heart disease","Hemorrhagic stroke"], "range": ["triangle-down","triangle-down","cross","square","triangle-up","circle","diamond","square"]}, "legend": null},
    "size": {"field": "cause", "type": "ordinal", "scale": {"domain": ["Other cardiovascular and circulatory diseases","Other forms of heart disease","Hypertensive disease","Ischemic stroke","Sequelae of cerebrovascular disease","Ischemic heart disease","Rheumatic heart disease","Hemorrhagic stroke"], "range": [12,22,10,24,28,8,14,10]}, "legend": null}
   }}
 ],
 "resolve": {"axis": {"x": "independent", "y": "independent"}}
},
{
 "width": 362, "height": 241,
 "transform": [{"filter": "datum.panel === 'E'"}],
 "layer": [
  {"mark": {"type": "line", "strokeWidth": 1.8},
   "encoding": {
    "x": {"field": "period", "type": "ordinal", "scale": {"type": "point", "padding": 0.5, "domain": ["1974-1979","1980-1985","1986-1991","1992-1997","1998-2003","2004-2009","2010-2015"]}, "axis": {"title": "Year"}},
    "y": {"field": "rate", "type": "quantitative", "scale": {"domain": [0, 150], "nice": false}, "axis": {"orient": "left", "title": "Crude mortality rate/10⁵", "titleX": -42, "titleAngle": -90, "format": "d", "tickCount": 100, "values": [0,10,20,30,40,50,60,70,80,90,100,110,120,130,140,150], "labelExpr": "datum.value % 50 === 0 ? datum.label : ''", "tickSize": {"condition": {"test": "datum.value % 50 !== 0", "value": 4}, "value": 6}}},
    "color": {"field": "cause", "type": "nominal", "scale": {"domain": ["Hemorrhagic stroke","Rheumatic heart disease","Ischemic heart disease","Sequelae of cerebrovascular disease","Ischemic stroke","Hypertensive disease","Other forms of heart disease","Other cardiovascular and circulatory diseases"], "range": ["#D0206E","#6E6E6E","#FF6A13","#1010C8","#22BB22","#FF1A1A","#FF7F88","#A020E8"]}}
   }},
  {"mark": {"type": "point", "filled": false, "opacity": 1, "strokeWidth": 1.1},
   "encoding": {
    "x": {"field": "period", "type": "ordinal", "scale": {"type": "point", "padding": 0.5, "domain": ["1974-1979","1980-1985","1986-1991","1992-1997","1998-2003","2004-2009","2010-2015"]}, "axis": {"orient": "top", "title": "E", "domain": false, "ticks": false, "labels": false, "titleX": -58, "titleY": -28, "titleAlign": "left", "titleAngle": 0, "titleBaseline": "alphabetic", "titleFont": "Liberation Serif", "titleFontSize": 25, "titleFontWeight": "bold", "titleColor": "#000000"}},
    "y": {"field": "rate", "type": "quantitative", "scale": {"domain": [0, 150], "nice": false}, "axis": {"orient": "right", "title": "Men", "domain": false, "ticks": false, "labels": false, "titleX": -201.5, "titleY": 18, "titleAlign": "center", "titleAngle": 0.001, "titleBaseline": "alphabetic", "titleFont": "Liberation Serif", "titleFontSize": 24, "titleFontWeight": "bold", "titleColor": "#000000"}},
    "color": {"field": "cause", "type": "nominal", "scale": {"domain": ["Hemorrhagic stroke","Rheumatic heart disease","Ischemic heart disease","Sequelae of cerebrovascular disease","Ischemic stroke","Hypertensive disease","Other forms of heart disease","Other cardiovascular and circulatory diseases"], "range": ["#D0206E","#6E6E6E","#FF6A13","#1010C8","#22BB22","#FF1A1A","#FF7F88","#A020E8"]}},
    "fill": {"condition": {"test": "datum.cause === 'Ischemic stroke'", "value": "#ffffff"}, "field": "cause", "type": "nominal", "scale": {"domain": ["Other cardiovascular and circulatory diseases","Other forms of heart disease","Hypertensive disease","Ischemic stroke","Sequelae of cerebrovascular disease","Ischemic heart disease","Rheumatic heart disease","Hemorrhagic stroke"], "range": ["#A020E8","#FF7F88","#FF1A1A","#22BB22","#1010C8","#FF6A13","#6E6E6E","#D0206E"]}, "legend": null},
    "shape": {"field": "cause", "type": "nominal", "scale": {"domain": ["Other cardiovascular and circulatory diseases","Other forms of heart disease","Hypertensive disease","Ischemic stroke","Sequelae of cerebrovascular disease","Ischemic heart disease","Rheumatic heart disease","Hemorrhagic stroke"], "range": ["triangle-down","triangle-down","cross","square","triangle-up","circle","diamond","square"]}, "legend": null},
    "size": {"field": "cause", "type": "ordinal", "scale": {"domain": ["Other cardiovascular and circulatory diseases","Other forms of heart disease","Hypertensive disease","Ischemic stroke","Sequelae of cerebrovascular disease","Ischemic heart disease","Rheumatic heart disease","Hemorrhagic stroke"], "range": [12,22,10,24,28,8,14,10]}, "legend": null}
   }}
 ],
 "resolve": {"axis": {"x": "independent", "y": "independent"}}
},
{
 "width": 363, "height": 241,
 "transform": [{"filter": "datum.panel === 'F'"}],
 "layer": [
  {"mark": {"type": "line", "strokeWidth": 1.8},
   "encoding": {
    "x": {"field": "period", "type": "ordinal", "scale": {"type": "point", "padding": 0.5, "domain": ["1974-1979","1980-1985","1986-1991","1992-1997","1998-2003","2004-2009","2010-2015"]}, "axis": {"title": "Year"}},
    "y": {"field": "rate", "type": "quantitative", "scale": {"domain": [0, 80], "nice": false}, "axis": {"orient": "left", "title": "Age standardized mortality rate/10⁵", "titleX": -26, "titleAngle": -90, "format": "d", "tickCount": 100, "values": [0,5,10,15,20,25,30,35,40,45,50,55,60,65,70,75,80], "labelExpr": "datum.value % 20 === 0 ? datum.label : ''", "tickSize": {"condition": {"test": "datum.value % 20 !== 0", "value": 4}, "value": 6}}},
    "color": {"field": "cause", "type": "nominal", "scale": {"domain": ["Hemorrhagic stroke","Rheumatic heart disease","Ischemic heart disease","Sequelae of cerebrovascular disease","Ischemic stroke","Hypertensive disease","Other forms of heart disease","Other cardiovascular and circulatory diseases"], "range": ["#D0206E","#6E6E6E","#FF6A13","#1010C8","#22BB22","#FF1A1A","#FF7F88","#A020E8"]}}
   }},
  {"mark": {"type": "point", "filled": false, "opacity": 1, "strokeWidth": 1.1},
   "encoding": {
    "x": {"field": "period", "type": "ordinal", "scale": {"type": "point", "padding": 0.5, "domain": ["1974-1979","1980-1985","1986-1991","1992-1997","1998-2003","2004-2009","2010-2015"]}, "axis": {"orient": "top", "title": "F", "domain": false, "ticks": false, "labels": false, "titleX": -40, "titleY": -28, "titleAlign": "left", "titleAngle": 0, "titleBaseline": "alphabetic", "titleFont": "Liberation Serif", "titleFontSize": 25, "titleFontWeight": "bold", "titleColor": "#000000"}},
    "y": {"field": "rate", "type": "quantitative", "scale": {"domain": [0, 80], "nice": false}, "axis": {"orient": "right", "title": "Men", "domain": false, "ticks": false, "labels": false, "titleX": -190, "titleY": 17, "titleAlign": "center", "titleAngle": 0.001, "titleBaseline": "alphabetic", "titleFont": "Liberation Serif", "titleFontSize": 24, "titleFontWeight": "bold", "titleColor": "#000000"}},
    "color": {"field": "cause", "type": "nominal", "scale": {"domain": ["Hemorrhagic stroke","Rheumatic heart disease","Ischemic heart disease","Sequelae of cerebrovascular disease","Ischemic stroke","Hypertensive disease","Other forms of heart disease","Other cardiovascular and circulatory diseases"], "range": ["#D0206E","#6E6E6E","#FF6A13","#1010C8","#22BB22","#FF1A1A","#FF7F88","#A020E8"]}},
    "fill": {"condition": {"test": "datum.cause === 'Ischemic stroke'", "value": "#ffffff"}, "field": "cause", "type": "nominal", "scale": {"domain": ["Other cardiovascular and circulatory diseases","Other forms of heart disease","Hypertensive disease","Ischemic stroke","Sequelae of cerebrovascular disease","Ischemic heart disease","Rheumatic heart disease","Hemorrhagic stroke"], "range": ["#A020E8","#FF7F88","#FF1A1A","#22BB22","#1010C8","#FF6A13","#6E6E6E","#D0206E"]}, "legend": null},
    "shape": {"field": "cause", "type": "nominal", "scale": {"domain": ["Other cardiovascular and circulatory diseases","Other forms of heart disease","Hypertensive disease","Ischemic stroke","Sequelae of cerebrovascular disease","Ischemic heart disease","Rheumatic heart disease","Hemorrhagic stroke"], "range": ["triangle-down","triangle-down","cross","square","triangle-up","circle","diamond","square"]}, "legend": null},
    "size": {"field": "cause", "type": "ordinal", "scale": {"domain": ["Other cardiovascular and circulatory diseases","Other forms of heart disease","Hypertensive disease","Ischemic stroke","Sequelae of cerebrovascular disease","Ischemic heart disease","Rheumatic heart disease","Hemorrhagic stroke"], "range": [12,22,10,24,28,8,14,10]}, "legend": null}
   }}
 ],
 "resolve": {"axis": {"x": "independent", "y": "independent"}}
}
],
"config": {
 "view": {"stroke": null},
 "font": "Liberation Sans",
 "axis": {"domainColor": "#1a1a1a", "domainWidth": 2, "tickColor": "#1a1a1a", "tickWidth": 1.5, "labelFont": "Liberation Sans", "labelFontWeight": "bold", "labelFontSize": 9.5, "labelColor": "#1a1a1a", "titleFont": "Liberation Sans", "titleFontWeight": "normal", "titleFontSize": 10, "titleColor": "#1a1a1a", "grid": false, "labelOverlap": false},
 "axisX": {"labelAngle": 0, "tickSize": 6, "labelPadding": 6, "titleY": 31.5, "titleBaseline": "alphabetic"},
 "axisY": {"labelPadding": 2, "titleBaseline": "middle", "titleY": 120.5}
}
}
